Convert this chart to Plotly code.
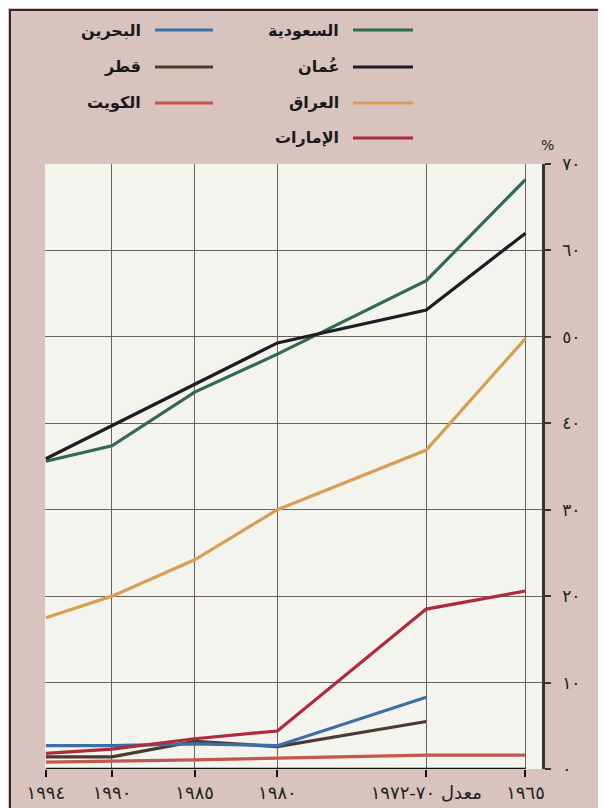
import plotly.graph_objects as go

# ---------------- data ----------------
years = [1994, 1990, 1985, 1980, 1971, 1965]
year_labels = ["١٩٩٤", "١٩٩٠", "١٩٨٥", "١٩٨٠", "معدل ٧٠-١٩٧٢", "١٩٦٥"]

y_ticks = [0, 10, 20, 30, 40, 50, 60, 70]
y_tick_labels = ["٠", "١٠", "٢٠", "٣٠", "٤٠", "٥٠", "٦٠", "٧٠"]

saudi = [35.6, 37.4, 43.6, 48.0, 56.5, 68.2]
oman = [35.9, 39.7, 44.5, 49.3, 53.1, 62.0]
iraq = [17.5, 20.0, 24.2, 30.0, 36.9, 49.8]
uae = [1.8, 2.3, 3.5, 4.4, 18.5, 20.6]
bahrain = [2.7, 2.7, 2.9, 2.7, 8.3, None]
qatar = [1.4, 1.4, 3.2, 2.6, 5.5, None]
kuwait = [0.8, 0.9, 1.05, 1.25, 1.6, 1.6]

names = ["السعودية", "عُمان", "العراق", "الإمارات", "البحرين", "قطر", "الكويت"]
series = [saudi, oman, iraq, uae, bahrain, qatar, kuwait]
colors = ["#2f6b4c", "#1c1c24", "#d99e55", "#b02a3e", "#3c6fa6", "#4b3a32", "#c4564e"]

# ---------------- layout geometry ----------------
W, H = 606, 808
ML, MR, MT, MB = 37, 72, 156, 47
PW, PH = W - ML - MR, H - MT - MB


def px_to_paper(px, py):
    return (px - ML) / PW, (H - MB - py) / PH


fig = go.Figure()

draw_order = [6, 5, 4, 2, 0, 1, 3]
for i in draw_order:
    fig.add_trace(go.Scatter(
        x=years, y=series[i], mode="lines", name=names[i],
        line=dict(color=colors[i], width=3.2),
        connectgaps=False, showlegend=False,
    ))

shapes = []
annotations = []

# bottom axis line spanning the category range
shapes.append(dict(type="line", xref="x", yref="y", x0=years[0], x1=years[-1],
                   y0=0, y1=0, line=dict(color="#111111", width=2.5), layer="above"))

# custom RTL legend: text then line sample to its right
legend_rows_py = [22, 59, 95, 130]
columns = [
    (list(range(0, 4)), 333, 345, 405),
    (list(range(4, 7)), 135, 147, 205),
]
for idxs, text_right, lx0, lx1 in columns:
    for r, i in enumerate(idxs):
        py = legend_rows_py[r]
        tx, ty = px_to_paper(text_right, py)
        annotations.append(dict(xref="paper", yref="paper", x=tx, y=ty, text="<b>" + names[i] + "</b>",
                                showarrow=False, xanchor="right", yanchor="middle",
                                font=dict(family="DejaVu Sans", size=16, color="#1a1a1a")))
        x0, y0 = px_to_paper(lx0, py)
        x1, _ = px_to_paper(lx1, py)
        shapes.append(dict(type="line", xref="paper", yref="paper", x0=x0, x1=x1, y0=y0, y1=y0,
                           line=dict(color=colors[i], width=3.2)))

# percent sign
px_, py_ = px_to_paper(539, 137)
annotations.append(dict(xref="paper", yref="paper", x=px_, y=py_, text="%", showarrow=False,
                        xanchor="center", yanchor="middle",
                        font=dict(family="DejaVu Sans", size=14, color="#222")))

# outer frame
fx0, fy0 = px_to_paper(2, H - 2)
fx1, fy1 = px_to_paper(W - 2, 2)
shapes.append(dict(type="rect", xref="paper", yref="paper", x0=fx0, y0=fy0, x1=fx1, y1=fy1,
                   line=dict(color="#2a2a2a", width=2)))

fig.update_layout(
    width=W, height=H,
    margin=dict(l=ML, r=MR, t=MT, b=MB),
    paper_bgcolor="#d8c3bf",
    plot_bgcolor="#f4f4ee",
    shapes=shapes,
    annotations=annotations,
    showlegend=False,
)

fig.update_xaxes(
    range=[1994.05, 1964.0],
    tickmode="array", tickvals=years, ticktext=year_labels,
    showgrid=True, gridcolor="#6a6060", gridwidth=1.2,
    zeroline=False, showline=False, automargin=False,
    ticks="outside", ticklen=7, tickwidth=2, tickcolor="#111",
    tickfont=dict(family="DejaVu Sans", size=18, color="#222"),
)
fig.update_yaxes(
    range=[0, 70], side="right",
    tickmode="array", tickvals=y_ticks, ticktext=y_tick_labels,
    showgrid=True, gridcolor="#6a6060", gridwidth=1.2,
    zeroline=False, showline=True, linecolor="#333", linewidth=2.5, automargin=False,
    ticks="outside", ticklen=6, tickwidth=2, tickcolor="#333",
    ticklabelstandoff=8,
    tickfont=dict(family="DejaVu Sans", size=17, color="#222"),
)

fig.write_html("out.html")
